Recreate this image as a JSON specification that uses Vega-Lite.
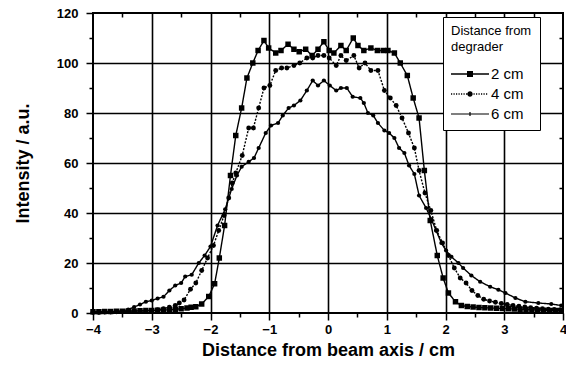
{
  "$schema": "https://vega.github.io/schema/vega-lite/v6.json",
  "width": 470,
  "height": 300,
  "autosize": {"type": "none"},
  "padding": {"left": 93, "top": 13, "right": 3, "bottom": 56},
  "background": "white",
  "config": {
    "font": "Liberation Sans",
    "view": {"stroke": "black", "strokeWidth": 2},
    "axis": {"domain": false, "labelColor": "black", "titleColor": "black", "tickColor": "black", "gridColor": "black"}
  },
  "data": {"values": [
    {"s":"2 cm","x":-4.0,"y":0.5},{"s":"2 cm","x":-3.9,"y":0.5},{"s":"2 cm","x":-3.8,"y":0.6},{"s":"2 cm","x":-3.7,"y":0.6},{"s":"2 cm","x":-3.6,"y":0.7},{"s":"2 cm","x":-3.5,"y":0.7},{"s":"2 cm","x":-3.4,"y":0.8},{"s":"2 cm","x":-3.3,"y":0.8},{"s":"2 cm","x":-3.2,"y":0.9},{"s":"2 cm","x":-3.1,"y":1.0},{"s":"2 cm","x":-3.0,"y":1.0},{"s":"2 cm","x":-2.9,"y":1.1},{"s":"2 cm","x":-2.8,"y":1.2},{"s":"2 cm","x":-2.7,"y":1.3},{"s":"2 cm","x":-2.6,"y":1.5},{"s":"2 cm","x":-2.5,"y":1.7},{"s":"2 cm","x":-2.4,"y":2.0},{"s":"2 cm","x":-2.33,"y":2.3},{"s":"2 cm","x":-2.25,"y":2.5},{"s":"2 cm","x":-2.15,"y":3.6},{"s":"2 cm","x":-2.03,"y":6.6},{"s":"2 cm","x":-1.93,"y":11.7},{"s":"2 cm","x":-1.85,"y":22},{"s":"2 cm","x":-1.76,"y":35},{"s":"2 cm","x":-1.66,"y":55},{"s":"2 cm","x":-1.57,"y":71},{"s":"2 cm","x":-1.47,"y":82},{"s":"2 cm","x":-1.38,"y":94},{"s":"2 cm","x":-1.28,"y":100},{"s":"2 cm","x":-1.19,"y":105},{"s":"2 cm","x":-1.09,"y":109},{"s":"2 cm","x":-1.01,"y":106},{"s":"2 cm","x":-0.89,"y":104},{"s":"2 cm","x":-0.8,"y":105},{"s":"2 cm","x":-0.68,"y":107.5},{"s":"2 cm","x":-0.58,"y":105.5},{"s":"2 cm","x":-0.49,"y":104.5},{"s":"2 cm","x":-0.38,"y":105.5},{"s":"2 cm","x":-0.27,"y":103},{"s":"2 cm","x":-0.17,"y":105.5},{"s":"2 cm","x":-0.07,"y":108.5},{"s":"2 cm","x":0.02,"y":105},{"s":"2 cm","x":0.1,"y":104},{"s":"2 cm","x":0.22,"y":107},{"s":"2 cm","x":0.31,"y":105},{"s":"2 cm","x":0.43,"y":110},{"s":"2 cm","x":0.51,"y":107},{"s":"2 cm","x":0.61,"y":105},{"s":"2 cm","x":0.73,"y":106},{"s":"2 cm","x":0.84,"y":105},{"s":"2 cm","x":0.94,"y":105},{"s":"2 cm","x":1.02,"y":105},{"s":"2 cm","x":1.13,"y":104},{"s":"2 cm","x":1.23,"y":100},{"s":"2 cm","x":1.35,"y":95},{"s":"2 cm","x":1.45,"y":86},{"s":"2 cm","x":1.55,"y":78},{"s":"2 cm","x":1.64,"y":57},{"s":"2 cm","x":1.74,"y":37},{"s":"2 cm","x":1.86,"y":23},{"s":"2 cm","x":1.96,"y":14},{"s":"2 cm","x":2.05,"y":8},{"s":"2 cm","x":2.17,"y":4.5},{"s":"2 cm","x":2.27,"y":3},{"s":"2 cm","x":2.37,"y":2.6},{"s":"2 cm","x":2.47,"y":2.4},{"s":"2 cm","x":2.57,"y":2.2},{"s":"2 cm","x":2.67,"y":2.1},{"s":"2 cm","x":2.77,"y":2.0},{"s":"2 cm","x":2.87,"y":1.9},{"s":"2 cm","x":2.97,"y":1.8},{"s":"2 cm","x":3.07,"y":1.7},{"s":"2 cm","x":3.17,"y":1.6},{"s":"2 cm","x":3.27,"y":1.5},{"s":"2 cm","x":3.37,"y":1.4},{"s":"2 cm","x":3.47,"y":1.3},{"s":"2 cm","x":3.57,"y":1.2},{"s":"2 cm","x":3.67,"y":1.1},{"s":"2 cm","x":3.77,"y":1.0},{"s":"2 cm","x":3.87,"y":1.0},{"s":"2 cm","x":3.97,"y":0.9},
    {"s":"4 cm","x":-4.0,"y":0.3},{"s":"4 cm","x":-3.9,"y":0.3},{"s":"4 cm","x":-3.8,"y":0.4},{"s":"4 cm","x":-3.7,"y":0.4},{"s":"4 cm","x":-3.6,"y":0.5},{"s":"4 cm","x":-3.5,"y":0.5},{"s":"4 cm","x":-3.4,"y":0.6},{"s":"4 cm","x":-3.3,"y":0.7},{"s":"4 cm","x":-3.2,"y":0.8},{"s":"4 cm","x":-3.1,"y":0.9},{"s":"4 cm","x":-3.0,"y":1.0},{"s":"4 cm","x":-2.9,"y":1.3},{"s":"4 cm","x":-2.8,"y":1.7},{"s":"4 cm","x":-2.7,"y":2.3},{"s":"4 cm","x":-2.6,"y":3.0},{"s":"4 cm","x":-2.53,"y":4.0},{"s":"4 cm","x":-2.45,"y":5.2},{"s":"4 cm","x":-2.34,"y":9.5},{"s":"4 cm","x":-2.25,"y":12},{"s":"4 cm","x":-2.15,"y":17},{"s":"4 cm","x":-2.05,"y":22},{"s":"4 cm","x":-1.95,"y":27},{"s":"4 cm","x":-1.86,"y":33},{"s":"4 cm","x":-1.77,"y":39},{"s":"4 cm","x":-1.69,"y":46},{"s":"4 cm","x":-1.63,"y":52},{"s":"4 cm","x":-1.57,"y":56},{"s":"4 cm","x":-1.46,"y":63},{"s":"4 cm","x":-1.35,"y":74},{"s":"4 cm","x":-1.27,"y":74},{"s":"4 cm","x":-1.18,"y":82},{"s":"4 cm","x":-1.09,"y":90},{"s":"4 cm","x":-0.99,"y":91},{"s":"4 cm","x":-0.89,"y":97},{"s":"4 cm","x":-0.79,"y":98},{"s":"4 cm","x":-0.7,"y":98},{"s":"4 cm","x":-0.58,"y":99},{"s":"4 cm","x":-0.48,"y":100},{"s":"4 cm","x":-0.36,"y":102},{"s":"4 cm","x":-0.26,"y":102},{"s":"4 cm","x":-0.17,"y":103},{"s":"4 cm","x":-0.07,"y":103},{"s":"4 cm","x":0.02,"y":102},{"s":"4 cm","x":0.14,"y":99},{"s":"4 cm","x":0.22,"y":103},{"s":"4 cm","x":0.31,"y":101},{"s":"4 cm","x":0.44,"y":103},{"s":"4 cm","x":0.53,"y":98},{"s":"4 cm","x":0.63,"y":100},{"s":"4 cm","x":0.73,"y":97},{"s":"4 cm","x":0.85,"y":97},{"s":"4 cm","x":0.96,"y":89},{"s":"4 cm","x":1.06,"y":86},{"s":"4 cm","x":1.16,"y":83},{"s":"4 cm","x":1.26,"y":78},{"s":"4 cm","x":1.37,"y":72},{"s":"4 cm","x":1.47,"y":66},{"s":"4 cm","x":1.55,"y":57},{"s":"4 cm","x":1.65,"y":48},{"s":"4 cm","x":1.75,"y":41},{"s":"4 cm","x":1.85,"y":33},{"s":"4 cm","x":1.95,"y":28},{"s":"4 cm","x":2.05,"y":23},{"s":"4 cm","x":2.15,"y":18},{"s":"4 cm","x":2.25,"y":14},{"s":"4 cm","x":2.35,"y":12},{"s":"4 cm","x":2.45,"y":9},{"s":"4 cm","x":2.55,"y":7},{"s":"4 cm","x":2.65,"y":5.5},{"s":"4 cm","x":2.75,"y":4.8},{"s":"4 cm","x":2.85,"y":4.3},{"s":"4 cm","x":2.95,"y":3.8},{"s":"4 cm","x":3.05,"y":3.4},{"s":"4 cm","x":3.15,"y":3.0},{"s":"4 cm","x":3.25,"y":2.7},{"s":"4 cm","x":3.35,"y":2.4},{"s":"4 cm","x":3.45,"y":2.1},{"s":"4 cm","x":3.55,"y":1.9},{"s":"4 cm","x":3.65,"y":1.7},{"s":"4 cm","x":3.75,"y":1.5},{"s":"4 cm","x":3.85,"y":1.4},{"s":"4 cm","x":3.95,"y":1.3},
    {"s":"6 cm","x":-4.0,"y":0.2},{"s":"6 cm","x":-3.9,"y":0.2},{"s":"6 cm","x":-3.8,"y":0.3},{"s":"6 cm","x":-3.7,"y":0.5},{"s":"6 cm","x":-3.6,"y":0.6},{"s":"6 cm","x":-3.5,"y":0.8},{"s":"6 cm","x":-3.4,"y":1.4},{"s":"6 cm","x":-3.3,"y":2.4},{"s":"6 cm","x":-3.2,"y":3.4},{"s":"6 cm","x":-3.1,"y":4.5},{"s":"6 cm","x":-3.0,"y":5.0},{"s":"6 cm","x":-2.9,"y":5.8},{"s":"6 cm","x":-2.8,"y":6.5},{"s":"6 cm","x":-2.7,"y":9},{"s":"6 cm","x":-2.6,"y":11},{"s":"6 cm","x":-2.5,"y":12},{"s":"6 cm","x":-2.43,"y":14.6},{"s":"6 cm","x":-2.32,"y":15.3},{"s":"6 cm","x":-2.2,"y":20},{"s":"6 cm","x":-2.1,"y":23},{"s":"6 cm","x":-2.0,"y":26.6},{"s":"6 cm","x":-1.88,"y":35},{"s":"6 cm","x":-1.75,"y":41.5},{"s":"6 cm","x":-1.64,"y":49.6},{"s":"6 cm","x":-1.55,"y":55},{"s":"6 cm","x":-1.47,"y":58.5},{"s":"6 cm","x":-1.35,"y":60.5},{"s":"6 cm","x":-1.26,"y":62},{"s":"6 cm","x":-1.18,"y":66},{"s":"6 cm","x":-1.06,"y":72},{"s":"6 cm","x":-0.97,"y":75},{"s":"6 cm","x":-0.85,"y":76},{"s":"6 cm","x":-0.77,"y":79},{"s":"6 cm","x":-0.67,"y":82},{"s":"6 cm","x":-0.58,"y":83},{"s":"6 cm","x":-0.47,"y":85},{"s":"6 cm","x":-0.36,"y":89},{"s":"6 cm","x":-0.26,"y":93},{"s":"6 cm","x":-0.17,"y":91},{"s":"6 cm","x":-0.07,"y":93},{"s":"6 cm","x":0.03,"y":91},{"s":"6 cm","x":0.14,"y":89},{"s":"6 cm","x":0.22,"y":90},{"s":"6 cm","x":0.32,"y":90},{"s":"6 cm","x":0.42,"y":86.5},{"s":"6 cm","x":0.55,"y":86},{"s":"6 cm","x":0.61,"y":84},{"s":"6 cm","x":0.68,"y":80},{"s":"6 cm","x":0.77,"y":79},{"s":"6 cm","x":0.85,"y":76},{"s":"6 cm","x":0.96,"y":73},{"s":"6 cm","x":1.04,"y":72},{"s":"6 cm","x":1.13,"y":70},{"s":"6 cm","x":1.21,"y":66},{"s":"6 cm","x":1.3,"y":64},{"s":"6 cm","x":1.38,"y":59},{"s":"6 cm","x":1.47,"y":55.6},{"s":"6 cm","x":1.55,"y":47},{"s":"6 cm","x":1.67,"y":42},{"s":"6 cm","x":1.76,"y":37.5},{"s":"6 cm","x":1.84,"y":33},{"s":"6 cm","x":1.93,"y":28},{"s":"6 cm","x":2.01,"y":25},{"s":"6 cm","x":2.1,"y":22.5},{"s":"6 cm","x":2.22,"y":20},{"s":"6 cm","x":2.3,"y":18},{"s":"6 cm","x":2.44,"y":15},{"s":"6 cm","x":2.59,"y":12.5},{"s":"6 cm","x":2.76,"y":10.5},{"s":"6 cm","x":2.9,"y":9.3},{"s":"6 cm","x":3.02,"y":8},{"s":"6 cm","x":3.19,"y":6},{"s":"6 cm","x":3.36,"y":4.5},{"s":"6 cm","x":3.58,"y":4},{"s":"6 cm","x":3.8,"y":3.6},{"s":"6 cm","x":3.97,"y":3}
  ]},
  "layer": [
    {
      "mark": {"type": "line", "color": "black", "strokeWidth": 1.4},
      "encoding": {
        "x": {"field": "x", "type": "quantitative", "scale": {"domain": [-4, 4], "nice": false},
          "axis": {"orient": "bottom", "values": [-4,-3.5,-3,-2.5,-2,-1.5,-1,-0.5,0,0.5,1,1.5,2,2.5,3,3.5,4],
            "labelExpr": "datum.value % 1 == 0 ? format(datum.value, 'd') : ''",
            "tickSize": {"condition": {"test": "datum.value % 1 == 0", "value": 7}, "value": 4},
            "tickWidth": 1.5, "labelPadding": 3,
            "grid": true, "gridWidth": 1.6, "gridOpacity": {"condition": {"test": "datum.value % 1 == 0 && abs(datum.value) < 4", "value": 1}, "value": 0},
            "labelFontSize": 13, "labelFontWeight": "bold", "labelFlush": false, "labelOverlap": false,
            "title": "Distance from beam axis / cm", "titleFontSize": 18, "titleFontWeight": "bold", "titlePadding": 5}},
        "y": {"field": "y", "type": "quantitative", "scale": {"domain": [0, 120], "nice": false},
          "axis": {"orient": "left", "values": [0,10,20,30,40,50,60,70,80,90,100,110,120],
            "labelExpr": "datum.value % 20 == 0 ? datum.label : ''",
            "tickSize": {"condition": {"test": "datum.value % 20 == 0", "value": 7}, "value": 4},
            "tickWidth": 1.5, "labelPadding": 8,
            "grid": true, "gridWidth": 1.6, "gridOpacity": {"condition": {"test": "datum.value % 20 == 0 && datum.value > 0 && datum.value < 120", "value": 1}, "value": 0},
            "labelFontSize": 13, "labelFontWeight": "bold",
            "title": "Intensity / a.u.", "titleFontSize": 18, "titleFontWeight": "bold", "titlePadding": 24}},
        "detail": {"field": "s", "type": "nominal"},
        "strokeDash": {"field": "s", "type": "nominal", "scale": {"domain": ["2 cm","4 cm","6 cm"], "range": [[1,0],[2,1.5],[1,0]]}, "legend": null}
      }
    },
    {
      "mark": {"type": "point", "filled": true, "color": "black", "opacity": 1},
      "encoding": {
        "x": {"field": "x", "type": "quantitative",
          "axis": {"orient": "top", "values": [-3.5,-2.5,-1.5,-0.5,0.5,1.5,2.5,3.5], "labels": false, "tickSize": -4, "tickWidth": 1.5, "grid": false, "title": null}},
        "y": {"field": "y", "type": "quantitative",
          "axis": {"orient": "right", "values": [10,30,50,70,90,110], "labels": false, "tickSize": -4, "tickWidth": 1.5, "grid": false, "title": null}},
        "shape": {"field": "s", "type": "nominal", "scale": {"domain": ["2 cm","4 cm","6 cm"], "range": ["square","circle","circle"]}, "legend": null},
        "size": {"field": "s", "type": "nominal", "scale": {"domain": ["2 cm","4 cm","6 cm"], "range": [30,18,6]}, "legend": null}
      }
    },
    {
      "transform": [{"filter": "datum.x > 100"}],
      "mark": {"type": "point", "filled": true, "color": "black", "opacity": 1},
      "encoding": {
        "shape": {"field": "s", "type": "nominal",
          "scale": {"domain": ["2 cm","4 cm","6 cm"], "range": [
            "M-1.9,-0.07H1.9V0.07H-1.9ZM-0.3,-0.3H0.3V0.3H-0.3Z",
            "M-1.9,-0.07h0.12v0.14h-0.12ZM-1.65,-0.07h0.12v0.14h-0.12ZM-1.4,-0.07h0.12v0.14h-0.12ZM-1.15,-0.07h0.12v0.14h-0.12ZM-0.9,-0.07h0.12v0.14h-0.12ZM-0.65,-0.07h0.12v0.14h-0.12ZM-0.4,-0.07h0.12v0.14h-0.12ZM0.35,-0.07h0.12v0.14h-0.12ZM0.6,-0.07h0.12v0.14h-0.12ZM0.85,-0.07h0.12v0.14h-0.12ZM1.1,-0.07h0.12v0.14h-0.12ZM1.35,-0.07h0.12v0.14h-0.12ZM1.6,-0.07h0.12v0.14h-0.12ZM-0.27,0A0.27,0.27,0,1,0,0.27,0A0.27,0.27,0,1,0,-0.27,0Z",
            "M-1.9,-0.06H1.9V0.06H-1.9ZM-0.06,-0.2H0.06V0.2H-0.06Z"]},
          "legend": {"orient": "none", "legendX": 350, "legendY": 4, "symbolSize": 400, "symbolOffset": 9, "symbolStrokeWidth": 0,
            "symbolFillColor": "black", "symbolOpacity": 1,
            "title": ["Distance from", "degrader"], "titleFontSize": 13, "titleFontWeight": "normal", "titleColor": "black", "titlePadding": 10, "titleLineHeight": 16,
            "labelFontSize": 15, "labelColor": "black", "labelOffset": 11, "rowPadding": 2,
            "padding": 8, "strokeColor": "black", "fillColor": "white"}
        }
      }
    }
  ],
  "resolve": {"axis": {"x": "independent", "y": "independent"}, "scale": {"shape": "independent"}, "legend": {"shape": "independent"}}
}
